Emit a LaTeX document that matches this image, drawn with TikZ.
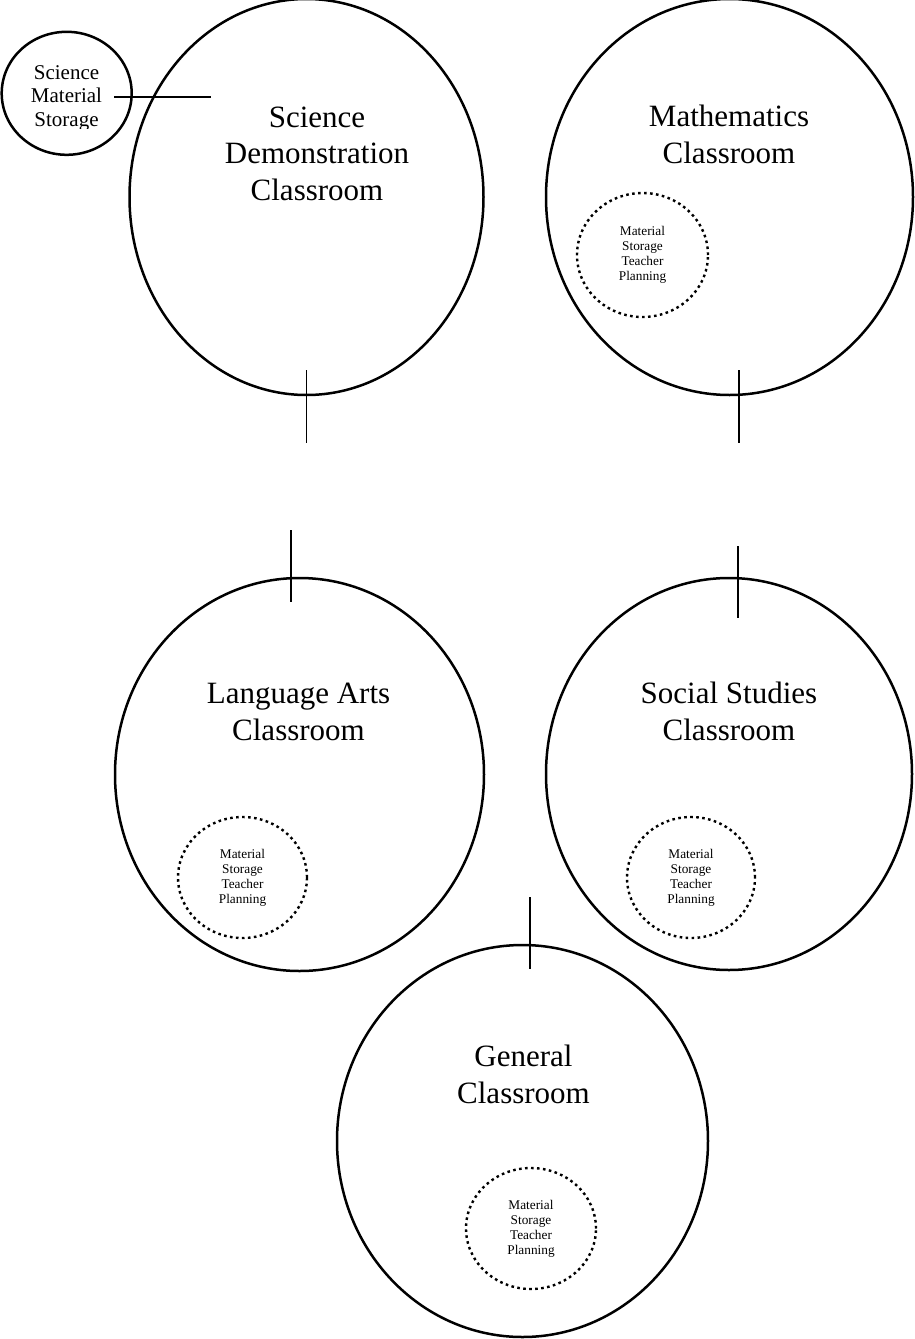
\documentclass[tikz,border=0pt]{standalone}
\usepackage{fontspec}
\setmainfont{Liberation Serif}
\usetikzlibrary{shapes.geometric}
\begin{document}
\begin{tikzpicture}[x=1pt,y=-1pt,
  room/.style={draw, ellipse, line width=2.5pt, inner sep=0pt},
  store/.style={draw, ellipse, line width=2.4pt, dash pattern=on 2.6pt off 3.4pt,
                inner sep=0pt, align=center, font=\fontsize{13.3}{15}\selectfont},
  door/.style={line width=1.6pt},
  bigtxt/.style={align=center, inner sep=0pt, anchor=base, font=\fontsize{31}{36.5}\selectfont},
  midtxt/.style={align=center, inner sep=0pt, anchor=base, font=\fontsize{21}{23.5}\selectfont}]
\path[use as bounding box] (0,0) rectangle (915,1339);

% classrooms
\node[room, minimum width=354pt, minimum height=396pt] (sci) at (306.5,197) {};
\node[room, minimum width=367pt, minimum height=396pt] (math) at (729.5,197) {};
\node[room, minimum width=369pt, minimum height=393pt] (lang) at (299.5,774.5) {};
\node[room, minimum width=366pt, minimum height=392pt] (soc) at (729,774) {};
\node[room, minimum width=371pt, minimum height=392pt] (gen) at (522.5,1141) {};

% room names (anchored at the baseline of the last line)
\node[bigtxt] (scit) at (317,200) {Science\\Demonstration\\Classroom};
\node[bigtxt] (matht) at (729,163) {Mathematics\\Classroom};
\node[bigtxt] (langt) at (298.5,740) {Language Arts\\Classroom};
\node[bigtxt] (soct) at (729,740) {Social Studies\\Classroom};
\node[bigtxt] (gent) at (523.5,1103) {General\\Classroom};

% storage / planning areas
\node[store, minimum width=131pt, minimum height=124pt] (mathst) at (642.5,255) {Material\\Storage\\Teacher\\Planning};
\node[store, minimum width=129pt, minimum height=121pt] (langst) at (242.5,877.5) {Material\\Storage\\Teacher\\Planning};
\node[store, minimum width=128pt, minimum height=121pt] (socst) at (691,877.5) {Material\\Storage\\Teacher\\Planning};
\node[store, minimum width=130pt, minimum height=121pt] (genst) at (531,1228.5) {Material\\Storage\\Teacher\\Planning};

% science material storage
\node[room, minimum width=130pt, minimum height=123pt] (scst) at (66.7,93.3) {};
\begin{scope}
  \clip (0,0) rectangle (140,128);
  \node[midtxt] (scstt) at (66.5,126) {Science\\Material\\Storage};
\end{scope}
\coordinate (scla) at (114,97);
\coordinate (sclb) at (211,97);
\draw[line width=2pt] (scla) -- (sclb);

% doors
\coordinate (d1a) at (306.5,370); \coordinate (d1b) at (306.5,443);
\coordinate (d2a) at (739,370);   \coordinate (d2b) at (739,443);
\coordinate (d3a) at (291,530);   \coordinate (d3b) at (291,602);
\coordinate (d4a) at (738,546);   \coordinate (d4b) at (738,618);
\coordinate (d5a) at (530,897);   \coordinate (d5b) at (530,969);
\draw[door] (d1a) -- (d1b);
\draw[door] (d2a) -- (d2b);
\draw[door] (d3a) -- (d3b);
\draw[door] (d4a) -- (d4b);
\draw[door] (d5a) -- (d5b);
\end{tikzpicture}
\end{document}
